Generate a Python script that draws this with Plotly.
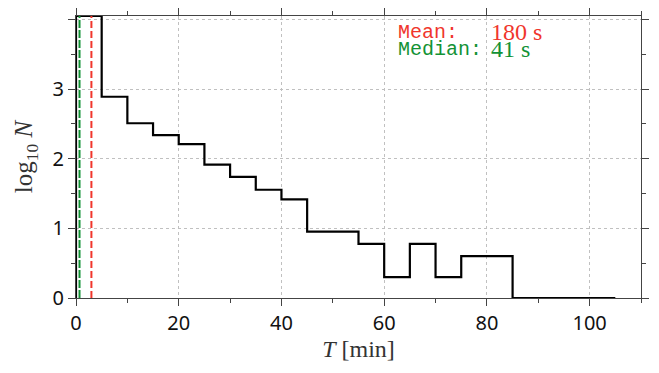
import numpy as np
import plotly.graph_objects as go

# Histogram bin edges (minutes) and log10 counts
bin_edges = [0, 5, 10, 15, 20, 25, 30, 35, 40, 45, 50, 55, 60, 65, 70, 75, 80, 85, 90, 95, 100, 105]
log_counts = [4.05, 2.89, 2.51, 2.34, 2.21, 1.915, 1.74, 1.555, 1.415, 0.954, 0.954,
              0.778, 0.301, 0.778, 0.301, 0.602, 0.602, 0.0, 0.0, 0.0, 0.0]

mean_s = 180
median_s = 41

x_ticks = [0, 20, 40, 60, 80, 100]
y_ticks = [0, 1, 2, 3, 4]
y_tick_labels = ["0", "1", "2", "3", ""]

RED = "#f0362c"
GREEN = "#139235"

# step outline
xs_step, ys_step = [], []
for i in range(len(log_counts)):
    xs_step += [bin_edges[i], bin_edges[i + 1]]
    ys_step += [log_counts[i], log_counts[i]]
xs_step = [bin_edges[0]] + xs_step + [bin_edges[-1]]
ys_step = [0] + ys_step + [0]

YTOP = 4.05

fig = go.Figure()
fig.add_trace(go.Scatter(x=xs_step, y=ys_step, mode="lines",
                         line=dict(color="black", width=2.2), showlegend=False, hoverinfo="skip"))
fig.add_trace(go.Scatter(x=[median_s / 60, median_s / 60], y=[0, YTOP], mode="lines",
                         line=dict(color=GREEN, width=2, dash="8px,2px"), showlegend=False))
fig.add_trace(go.Scatter(x=[mean_s / 60, mean_s / 60], y=[0, YTOP], mode="lines",
                         line=dict(color=RED, width=2, dash="7px,3px"), showlegend=False))

mono = "Liberation Mono"
serif = "Liberation Serif"
fig.add_annotation(x=62.3, y=3.82, xref="x", yref="y", text="Mean:", showarrow=False,
                   xanchor="left", yanchor="middle", font=dict(family=mono, size=20, color=RED))
fig.add_annotation(x=80.4, y=3.82, xref="x", yref="y", text=f"{mean_s} s", showarrow=False,
                   xanchor="left", yanchor="middle", font=dict(family=serif, size=24, color=RED))
fig.add_annotation(x=62.3, y=3.57, xref="x", yref="y", text="Median:", showarrow=False,
                   xanchor="left", yanchor="middle", font=dict(family=mono, size=20, color=GREEN))
fig.add_annotation(x=80.4, y=3.57, xref="x", yref="y", text=f"{median_s} s", showarrow=False,
                   xanchor="left", yanchor="middle", font=dict(family=serif, size=24, color=GREEN))

axis_common = dict(
    showline=True, linecolor="#444444", linewidth=1, mirror="ticks",
    ticks="outside", ticklen=7, tickwidth=1, tickcolor="#444444",
    showgrid=True, gridcolor="#c0c0c0", griddash="3px,3px", gridwidth=1,
    zeroline=False,
    tickfont=dict(family="Noto Sans", size=20, color="#111111"),
)

fig.update_xaxes(range=[0, 110], tickvals=x_ticks,
                 minor=dict(ticks="outside", dtick=10, tick0=0, ticklen=4, tickcolor="#444444", showgrid=False),
                 title=dict(text="<i>T</i> [min]", font=dict(family=serif, size=24, color="#333333"), standoff=4),
                 **axis_common)
fig.update_yaxes(range=[0, YTOP], tickvals=y_ticks, ticktext=y_tick_labels,
                 minor=dict(ticks="outside", dtick=0.5, tick0=0, ticklen=4, tickcolor="#444444", showgrid=False),
                 title=dict(text="log<sub>10</sub> <i>N</i>", font=dict(family=serif, size=25, color="#333333"), standoff=12),
                 **axis_common)

fig.update_layout(width=659, height=373, margin=dict(l=76, r=18, t=8, b=75),
                  plot_bgcolor="white", paper_bgcolor="white")
fig.write_html("out.html")
